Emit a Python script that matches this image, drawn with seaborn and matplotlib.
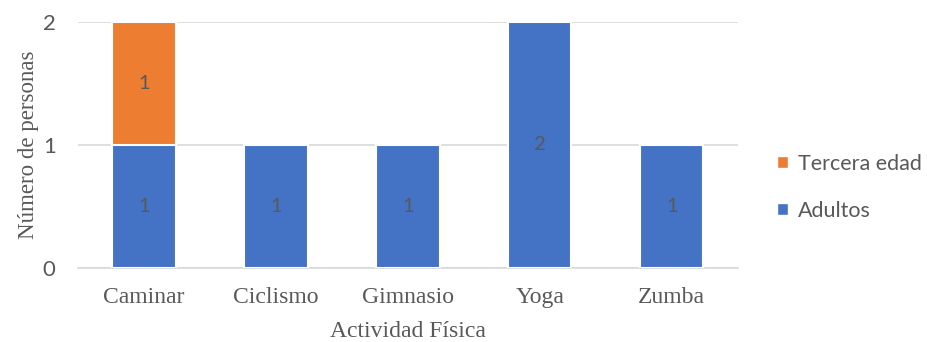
import matplotlib
matplotlib.use("Agg")
import matplotlib.pyplot as plt
import seaborn as sns
import pandas as pd
from matplotlib.patches import Patch

# Data
actividades = ["Caminar", "Ciclismo", "Gimnasio", "Yoga", "Zumba"]
adultos = [1, 1, 1, 2, 1]
tercera_edad = [1, 0, 0, 0, 0]
y_ticks = [0, 1, 2]

BLUE = "#4472C4"
ORANGE = "#ED7D31"
TEXT = "#595959"
GRID = "#D9D9D9"

sns.set_theme(style="white")
plt.rcParams["font.family"] = ["Lato", "DejaVu Sans"]
SERIF = ["Liberation Serif", "DejaVu Serif"]

df = pd.DataFrame({
    "actividad": actividades,
    "adultos": adultos,
    "tercera": tercera_edad,
})
df["total"] = df["adultos"] + df["tercera"]

fig = plt.figure(figsize=(9.28, 3.42), dpi=100)
ax = fig.add_axes([0.084, 0.2164, 0.711, 0.7193])

# Stacked bars: full height in orange, then the lower segment in blue on top
sns.barplot(data=df, x="actividad", y="total", color=ORANGE, width=0.48,
            edgecolor="white", linewidth=1.5, saturation=1, ax=ax, zorder=3)
sns.barplot(data=df, x="actividad", y="adultos", color=BLUE, width=0.48,
            edgecolor="white", linewidth=1.5, saturation=1, ax=ax, zorder=4)

# Segment value labels
for i, (a, t) in enumerate(zip(adultos, tercera_edad)):
    if a:
        ax.text(i, a / 2, f"{a}", ha="center", va="center", color=TEXT,
                fontsize=14.5, zorder=5)
    if t:
        ax.text(i, a + t / 2, f"{t}", ha="center", va="center", color=TEXT,
                fontsize=14.5, zorder=5)

ax.set_ylim(0, 2)
ax.set_xlim(-0.5, len(actividades) - 0.5)
ax.set_yticks(y_ticks)
ax.set_yticklabels([str(v) for v in y_ticks], color=TEXT, fontsize=16)
ax.yaxis.grid(True, color=GRID, linewidth=1.2, zorder=0)
ax.set_axisbelow(True)

for side in ["top", "right", "left"]:
    ax.spines[side].set_visible(False)
ax.spines["bottom"].set_color(GRID)
ax.spines["bottom"].set_linewidth(1.2)

# Category separators below the axis
ax.set_xticks([i - 0.5 for i in range(len(actividades) + 1)], minor=True)
ax.tick_params(axis="x", which="minor", length=6, width=1.2, color=GRID,
               direction="out")
ax.tick_params(axis="x", which="major", length=0, pad=14)
ax.tick_params(axis="y", length=0, pad=16)
ax.set_xticks(range(len(actividades)))
ax.set_xticklabels(actividades, family=SERIF, fontsize=17, color=TEXT)

ax.set_xlabel("Actividad Física", family=SERIF, fontsize=17, color=TEXT,
              labelpad=9)
ax.set_ylabel("Número de personas", family=SERIF, fontsize=16.5, color=TEXT,
              labelpad=3)

handles = [Patch(facecolor=ORANGE, label="Tercera edad"),
           Patch(facecolor=BLUE, label="Adultos")]
leg = fig.legend(handles=handles, loc="center left",
                 bbox_to_anchor=(0.826, 0.452), frameon=False,
                 handlelength=0.5, handleheight=0.5, handletextpad=0.45,
                 labelspacing=1.25, fontsize=15.5, borderpad=0)
for t in leg.get_texts():
    t.set_color(TEXT)

fig.savefig("out.png", dpi=100)
